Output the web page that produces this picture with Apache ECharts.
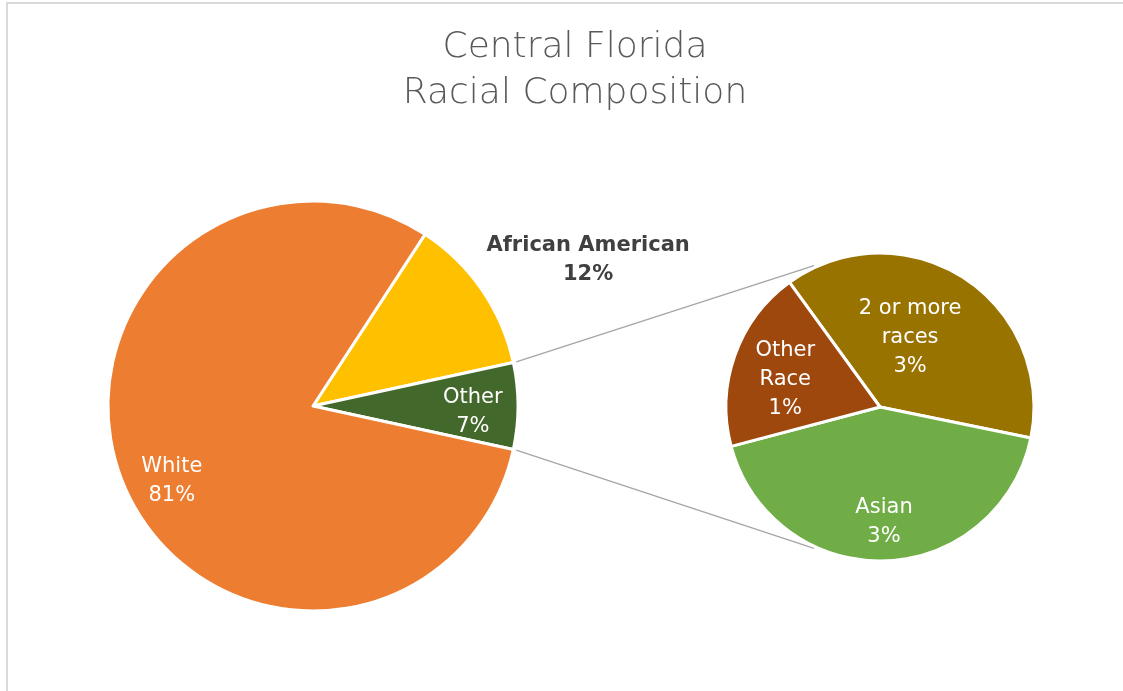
<!DOCTYPE html>
<html>
<head>
<meta charset="utf-8">
<script src="https://cdn.jsdelivr.net/npm/echarts@6/dist/echarts.min.js"></script>
<style>
  html, body { margin: 0; padding: 0; background: #fff; }
  #chart { width: 1123px; height: 691px; }
</style>
</head>
<body>
<div id="chart"></div>
<script>
// Chart text
const titleText = 'Central Florida\nRacial Composition';

// Primary pie: share of population (%)
const mainCategories = ['African American', 'Other', 'White'];
const mainValues = [12.4, 6.8, 80.8];
const mainColors = ['#FFC000', '#43682B', '#ED7D31'];

// Breakdown of "Other" (%)
const subCategories = ['2 or more\nraces', 'Asian', 'Other\nRace'];
const subValues = [2.6, 2.9, 1.3];
const subColors = ['#997300', '#70AD47', '#9E480E'];

// Layout of the two pies (pixels)
const mainCenter = [313, 406];
const mainRadius = 205;
const subCenter = [880, 407];
const subRadius = 154;
const subStartAngle = 126;
const connectorAngle = 115; // where the connector lines meet the breakdown pie

// Label anchors: [fraction of radius, angle in degrees] from each pie centre
const mainLabelSpots = [[1.52, 28], [0.78, -2], [0.78, -152]];
const subLabelSpots = [[0.49, 66.5], [0.75, -88], [0.64, 164]];

const sum = a => a.reduce((s, v) => s + v, 0);
const rad = d => d * Math.PI / 180;
const mainTotal = sum(mainValues);
const otherIdx = mainCategories.indexOf('Other');
// Rotate the primary pie so the "Other" slice is centred on the right side
const mainStartAngle = (sum(mainValues.slice(0, otherIdx)) + mainValues[otherIdx] / 2) / mainTotal * 360;
const otherHalf = mainValues[otherIdx] / 2 / mainTotal * 360;

function polar(center, r, deg) {
  return [center[0] + r * Math.cos(rad(deg)), center[1] - r * Math.sin(rad(deg))];
}

function connector(sign) {
  const p1 = polar(mainCenter, mainRadius + 3, sign * otherHalf);
  const p2 = polar(subCenter, subRadius + 2, sign * connectorAngle);
  return {
    type: 'line',
    z: 1,
    shape: { x1: p1[0], y1: p1[1], x2: p2[0], y2: p2[1] },
    style: { stroke: '#a6a6a6', lineWidth: 1.5 }
  };
}

const labelFont = '"DejaVu Sans", sans-serif';

const chart = echarts.init(document.getElementById('chart'), null, { renderer: 'canvas' });
chart.setOption({
  backgroundColor: '#ffffff',
  animation: false,
  title: {
    text: titleText,
    left: 570,
    top: 20,
    textAlign: 'center',
    textStyle: {
      fontFamily: labelFont,
      fontSize: 36,
      lineHeight: 46,
      fontWeight: 200,
      color: '#595959'
    }
  },
  graphic: [
    {
      type: 'rect',
      z: 0,
      shape: { x: 7, y: 3, width: 1140, height: 720 },
      style: { fill: 'none', stroke: '#d9d9d9', lineWidth: 2 }
    },
    connector(1),
    connector(-1)
  ],
  series: [
    {
      type: 'pie',
      center: mainCenter,
      radius: mainRadius,
      startAngle: mainStartAngle,
      clockwise: true,
      silent: true,
      data: mainCategories.map((n, i) => ({
        name: n,
        value: mainValues[i],
        itemStyle: { color: mainColors[i] },
        label: i === 0 ? { color: '#404040', fontWeight: 'bold', fontSize: 21 } : {}
      })),
      itemStyle: { borderColor: '#ffffff', borderWidth: 3 },
      label: {
        show: true,
        position: 'inside',
        formatter: p => p.name + '\n' + Math.round(p.value) + '%',
        fontFamily: labelFont,
        fontSize: 21,
        lineHeight: 29,
        color: '#ffffff'
      },
      labelLine: { show: false },
      labelLayout: p => {
        const s = mainLabelSpots[p.dataIndex];
        const xy = polar(mainCenter, s[0] * mainRadius, s[1]);
        return { x: xy[0], y: xy[1], align: 'center', verticalAlign: 'middle' };
      }
    },
    {
      type: 'pie',
      center: subCenter,
      radius: subRadius,
      startAngle: subStartAngle,
      clockwise: true,
      silent: true,
      data: subCategories.map((n, i) => ({
        name: n,
        value: subValues[i],
        itemStyle: { color: subColors[i] }
      })),
      itemStyle: { borderColor: '#ffffff', borderWidth: 3 },
      label: {
        show: true,
        position: 'inside',
        formatter: p => p.name + '\n' + Math.round(p.value) + '%',
        fontFamily: labelFont,
        fontSize: 21,
        lineHeight: 29,
        color: '#ffffff'
      },
      labelLine: { show: false },
      labelLayout: p => {
        const s = subLabelSpots[p.dataIndex];
        const xy = polar(subCenter, s[0] * subRadius, s[1]);
        return { x: xy[0], y: xy[1], align: 'center', verticalAlign: 'middle' };
      }
    }
  ]
});
</script>
</body>
</html>
